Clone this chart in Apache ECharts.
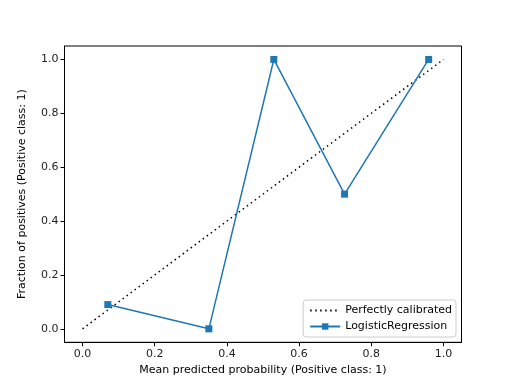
<!DOCTYPE html>
<html><head><meta charset="utf-8">
<script src="https://cdn.jsdelivr.net/npm/echarts@6/dist/echarts.min.js"></script>
<style>html,body{margin:0;padding:0;background:#fff}#c{width:512px;height:384px}</style>
</head><body><div id="c"></div>
<script>
const meanPredicted = [0.07, 0.35, 0.53, 0.726, 0.959];
const fractionPositives = [0.09, 0.0, 1.0, 0.5, 1.0];
const diagX = [0, 1];
const diagY = [0, 1];
const tickValues = [0, 0.2, 0.4, 0.6, 0.8, 1.0];
const font = 'DejaVu Sans';
const chart = echarts.init(document.getElementById('c'), null, {renderer: 'canvas'});
const axisCommon = {
  min: -0.05, max: 1.05,
  axisLine: {show: true, onZero: false, lineStyle: {color: '#000', width: 1}},
  axisTick: {show: true, inside: false, length: 4, lineStyle: {color: '#000'}, customValues: tickValues},
  axisLabel: {color: '#222', fontFamily: font, fontSize: 11, customValues: tickValues, formatter: v => v.toFixed(1), showMinLabel: true, showMaxLabel: true, margin: 6},
  splitLine: {show: false},
  nameLocation: 'middle',
  nameTextStyle: {color: '#000', fontFamily: font, fontSize: 11}
};
chart.setOption({
  animation: false,
  grid: {left: 64.5, right: 50.5, top: 46, bottom: 41.7, show: true, borderColor: '#000', borderWidth: 1},
  xAxis: Object.assign({}, axisCommon, {type: 'value', name: 'Mean predicted probability (Positive class: 1)', nameGap: 20}),
  yAxis: Object.assign({}, axisCommon, {type: 'value', name: 'Fraction of positives (Positive class: 1)', nameGap: 37}),
  legend: {
    right: 56, bottom: 47, orient: 'vertical', itemGap: 5, itemWidth: 30, itemHeight: 8,
    padding: [5, 4, 5, 6],
    borderColor: '#ccc', borderWidth: 1, borderRadius: 3, backgroundColor: 'rgba(255,255,255,0.8)',
    textStyle: {color: '#000', fontFamily: font, fontSize: 11},
    data: [
      {name: 'Perfectly calibrated', itemStyle: {opacity: 0}},
      'LogisticRegression'
    ]
  },
  series: [
    {name: 'Perfectly calibrated', type: 'line', data: diagX.map((x, i) => [x, diagY[i]]),
      symbol: 'none', lineStyle: {color: '#000', width: 1.5, type: [1.5, 3.5]}, itemStyle: {color: '#000'}, z: 2},
    {name: 'LogisticRegression', type: 'line', data: meanPredicted.map((x, i) => [x, fractionPositives[i]]),
      symbol: 'rect', symbolSize: 7, lineStyle: {color: '#1f77b4', width: 1.5}, itemStyle: {color: '#1f77b4'}, z: 3}
  ]
});
</script></body></html>
